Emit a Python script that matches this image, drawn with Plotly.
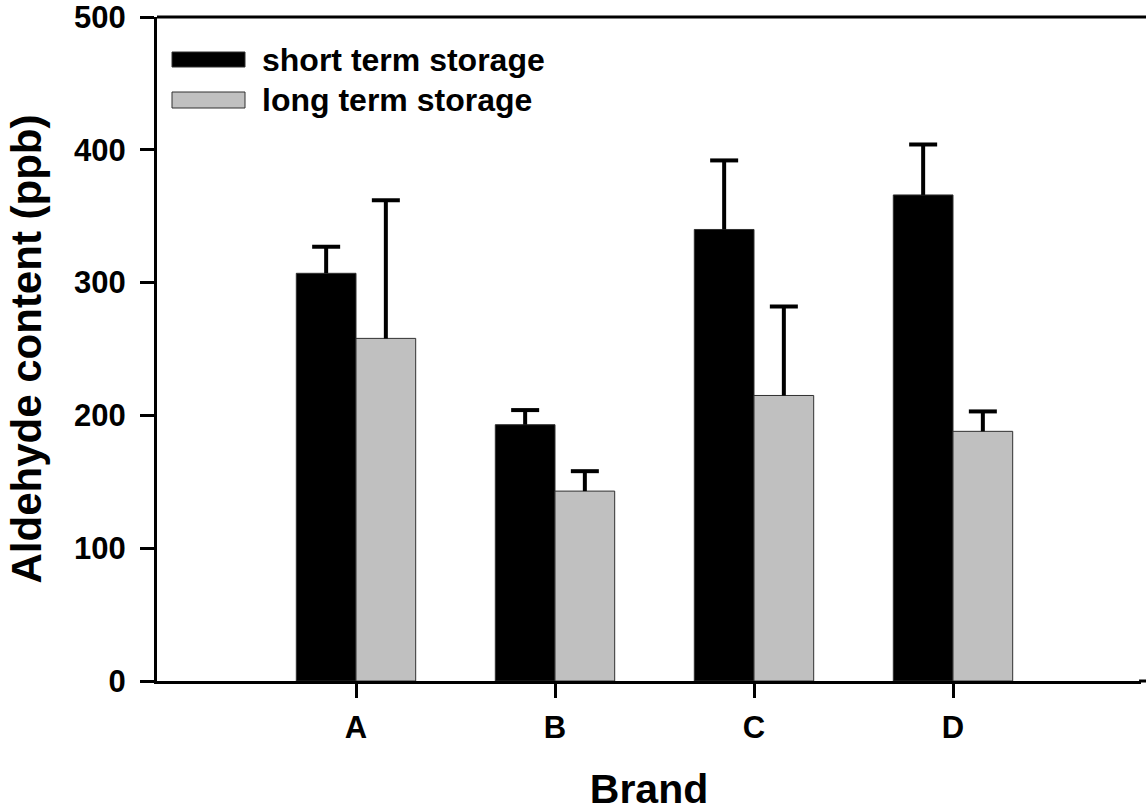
import plotly.graph_objects as go

brands = ["A", "B", "C", "D"]
short_vals = [307, 193, 340, 366]
short_err = [20, 11, 52, 38]
long_vals = [258, 143, 215, 188]
long_err = [104, 15, 67, 15]
y_ticks = [0, 100, 200, 300, 400, 500]
series_names = ["short term storage", "long term storage"]

FONT = "Liberation Sans, Arial, sans-serif"
idx = list(range(len(brands)))
bw = 0.3
short_x = [i - bw / 2 for i in idx]
long_x = [i + bw / 2 for i in idx]

fig = go.Figure()
fig.add_trace(go.Bar(x=idx, y=short_vals, width=bw, offset=-bw, name=series_names[0],
                     marker=dict(color="black", line=dict(color="#303030", width=1))))
fig.add_trace(go.Bar(x=idx, y=long_vals, width=bw, offset=0, name=series_names[1],
                     marker=dict(color="#c0c0c0", line=dict(color="#303030", width=1))))

for xs, ys, es in [(short_x, short_vals, short_err), (long_x, long_vals, long_err)]:
    fig.add_trace(go.Scatter(x=xs, y=ys, mode="markers", marker=dict(size=0.1, color="rgba(0,0,0,0)"),
                             error_y=dict(type="data", array=es, arrayminus=[0] * len(es), symmetric=False,
                                          width=0, thickness=4, color="black"),
                             showlegend=False, hoverinfo="skip"))
    fig.add_trace(go.Scatter(x=xs, y=[v + e for v, e in zip(ys, es)], mode="markers",
                             marker=dict(symbol="line-ew", size=20, line=dict(width=4, color="black")),
                             showlegend=False, hoverinfo="skip"))

# layout geometry (pixels)
L, R, T, B = 157, 1146, 17, 681
plot_w = R - L
plot_h = B - T
DOM = 0.995
def px(x):
    return (x - L) / plot_w
def py(y):
    return (B - y) / plot_h

# manual legend
fig.add_shape(type="rect", xref="paper", yref="paper", x0=px(172), x1=px(245), y0=py(67), y1=py(52),
              fillcolor="black", line=dict(color="#303030", width=1))
fig.add_shape(type="rect", xref="paper", yref="paper", x0=px(172), x1=px(245), y0=py(108), y1=py(92),
              fillcolor="#c0c0c0", line=dict(color="#303030", width=1))
# top frame line and extension of the bottom axis line to the page edge
fig.add_shape(type="line", xref="paper", yref="paper", x0=0, x1=1.01, y0=1, y1=1,
              line=dict(color="black", width=3))
fig.add_shape(type="line", xref="paper", yref="paper", x0=DOM - 0.002, x1=1.01, y0=0, y1=0,
              line=dict(color="black", width=3))
for name, yc in zip(series_names, [60, 100]):
    fig.add_annotation(text="<b>%s</b>" % name, xref="paper", yref="paper", x=px(260), y=py(yc),
                       xanchor="left", yanchor="middle", showarrow=False,
                       font=dict(family=FONT, size=32, color="black"))

fig.update_layout(
    template="none",
    width=1146, height=812,
    margin=dict(l=L, r=0, t=T, b=812 - B, pad=0),
    paper_bgcolor="white", plot_bgcolor="white",
    barmode="overlay", showlegend=False,
    font=dict(family=FONT, color="black"),
)
unit = 199.0
fig.update_xaxes(
    domain=[0, DOM],
    range=[-1, -1 + DOM * plot_w / unit], tickvals=idx, ticktext=["<b>%s</b>" % b for b in brands],
    showline=True, linecolor="black", linewidth=3, mirror=False,
    ticks="outside", ticklen=14, tickwidth=3, tickcolor="black",
    showgrid=False, zeroline=False, ticklabelstandoff=3,
    tickfont=dict(family=FONT, size=31, color="black"),
    title=dict(text="<b>Brand</b>", font=dict(family=FONT, size=41, color="black"), standoff=33),
)
fig.update_yaxes(
    range=[0, 500], tickvals=y_ticks, ticktext=["<b>%d</b>" % v for v in y_ticks],
    showline=True, linecolor="black", linewidth=3, mirror=False,
    ticks="outside", ticklen=14, tickwidth=3, tickcolor="black",
    showgrid=False, zeroline=False, ticklabelstandoff=8, ticklabeloverflow="allow",
    tickfont=dict(family=FONT, size=31, color="black"),
    title=dict(text="<b>Aldehyde content (ppb)</b>", font=dict(family=FONT, size=42, color="black"), standoff=20),
)

fig.write_html("out.html")
